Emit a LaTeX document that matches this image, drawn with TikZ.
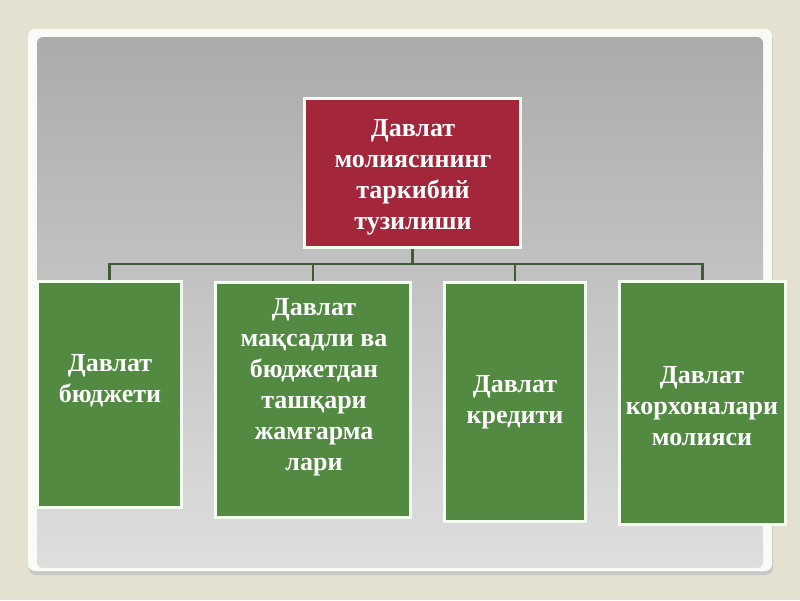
\documentclass[tikz,border=0pt]{standalone}
\usepackage{fontspec}
\setmainfont{Liberation Serif}
\usetikzlibrary{backgrounds}
\definecolor{bgbeige}{HTML}{E4E1D1}
\definecolor{framewhite}{HTML}{FAFAF7}
\definecolor{paneltop}{HTML}{ABABAB}
\definecolor{panelmid}{HTML}{D0D0D0}
\definecolor{panelbot}{HTML}{DEDEDE}
\definecolor{redfill}{HTML}{A3263A}
\definecolor{greenfill}{HTML}{528A42}
\definecolor{boxedge}{HTML}{F4FFF0}
\definecolor{connclr}{HTML}{3F5B38}
\begin{document}
\begin{tikzpicture}[x=1pt,y=-1pt,
  box/.style={draw=boxedge, line width=3pt, inner sep=0pt},
  redbox/.style={box, fill=redfill},
  greenbox/.style={box, fill=greenfill},
  label/.style={text=white, align=center, inner sep=0pt,
    font=\bfseries\fontsize{26}{31}\selectfont},
  conn/.style={draw=connclr, line width=2.5pt}]
\useasboundingbox (0,0) rectangle (800,600);
% nodes
\node[redbox, minimum width=216, minimum height=149] (red) at (412.5,173) {};
\node[greenbox, minimum width=144, minimum height=226] (b1) at (109.5,394.5) {};
\node[greenbox, minimum width=195, minimum height=235] (b2) at (313,400) {};
\node[greenbox, minimum width=141, minimum height=239] (b3) at (515,402) {};
\node[greenbox, minimum width=166, minimum height=243] (b4) at (702.5,403) {};
% texts
\node[label] (tred) at (413,177) {Давлат\\молиясининг\\таркибий\\тузилиши};
\node[label] (t1) at (110,381) {Давлат\\бюджети};
\node[label] (t2) at (314,387) {Давлат\\мақсадли ва\\бюджетдан\\ташқари\\жамғарма\\лари};
\node[label] (t3) at (515,402) {Давлат\\кредити};
\node[label] (t4) at (702,406) {Давлат\\корхоналари\\молияси};
\begin{pgfonlayer}{background}
  \fill[bgbeige] (0,0) rectangle (800,600);
  % frame and panel
  \fill[black!22, rounded corners=7pt] (29,33) rectangle (773,575);
  \fill[framewhite, rounded corners=7pt] (28,29) rectangle (772,571);
  \shade[top color=paneltop, middle color=panelmid, bottom color=panelbot, rounded corners=6pt] (37,37) rectangle (763,568);
  % connectors
  \coordinate (bus) at (412.5,264);
  \draw[conn] (red.south) -- (bus);
  \draw[conn] (bus) -| (b1.north);
  \draw[conn] (bus) -| (b2.north);
  \draw[conn] (bus) -| (b3.north);
  \draw[conn] (bus) -| (b4.north);
\end{pgfonlayer}
\end{tikzpicture}
\end{document}
